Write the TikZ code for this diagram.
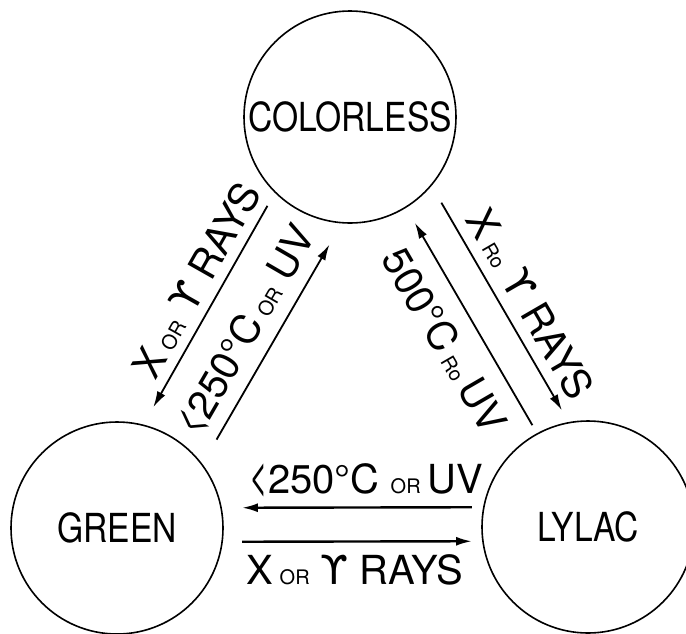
\documentclass[tikz,border=0pt]{standalone}
\usepackage{fontspec}
\setmainfont{TeX Gyre Heros}
\newfontfamily\namefont[FakeStretch=0.84]{TeX Gyre Heros}
\newfontfamily\greekfont{DejaVu Sans}
\usetikzlibrary{calc,arrows.meta}
\newcommand{\sm}[1]{{\fontsize{20}{20}\selectfont #1}}
\newcommand{\gam}{{\greekfont ϒ}}
\newcommand{\anglt}{\scalebox{0.8}[1.3]{<}}

\begin{document}
\begin{tikzpicture}[x=1pt,y=-1pt,
		state/.style={circle,draw,line width=1.6pt,minimum size=212pt,inner sep=0pt,font=\namefont\fontsize{40}{40}\selectfont},
		trans/.style={line width=1.8pt,-{Latex[length=16pt,width=9pt]}},
		lab/.style={font=\fontsize{40}{40}\selectfont,inner sep=0pt,sloped}]
				\useasboundingbox (0,0) rectangle (686,633);
				\node[state] (col) at (350,117) {COLORLESS};
				\node[state] (grn) at (117,528) {GREEN};
				\node[state] (lyl) at (588,527) {LYLAC};
				\draw[trans] ($(col)!118pt!(grn)!28pt!-90:(grn)$) -- ($(grn)!123pt!(col)!28pt!90:(col)$)
					node[lab,pos=0.43,above=9pt] {X\,\sm{OR} \gam\ RAYS};
				\draw[trans] ($(grn)!126pt!(col)!43pt!-90:(col)$) -- ($(col)!121pt!(grn)!45pt!90:(grn)$)
					node[lab,pos=0.49,above=11pt] {\anglt250°C\,\sm{OR} UV};
				\draw[trans] ($(col)!120pt!(lyl)!36pt!90:(lyl)$) -- ($(lyl)!114pt!(col)!36pt!-90:(col)$)
					node[lab,pos=0.55,above=10pt] {X\,\sm{Ro} \gam\ RAYS};
				\draw[trans] ($(lyl)!116pt!(col)!3pt!-90:(col)$) -- ($(col)!124pt!(lyl)!3pt!90:(lyl)$)
					node[lab,pos=0.5,below=17pt] {500°C\,\sm{Ro}\,UV};
				\draw[trans,line width=2.4pt] ($(lyl)!116pt!(grn)!20pt!-90:(grn)$) -- ($(grn)!125pt!(lyl)!20pt!90:(lyl)$)
					node[lab,pos=0.46,above=9pt] {\anglt250°C \sm{OR}\,UV};
				\draw[trans,line width=2.4pt] ($(grn)!125pt!(lyl)!14pt!-90:(lyl)$) -- ($(lyl)!116pt!(grn)!14pt!90:(grn)$)
					node[lab,pos=0.49,below=12pt] {X\,\sm{OR} \gam\ RAYS};
			\end{tikzpicture}
\end{document}
